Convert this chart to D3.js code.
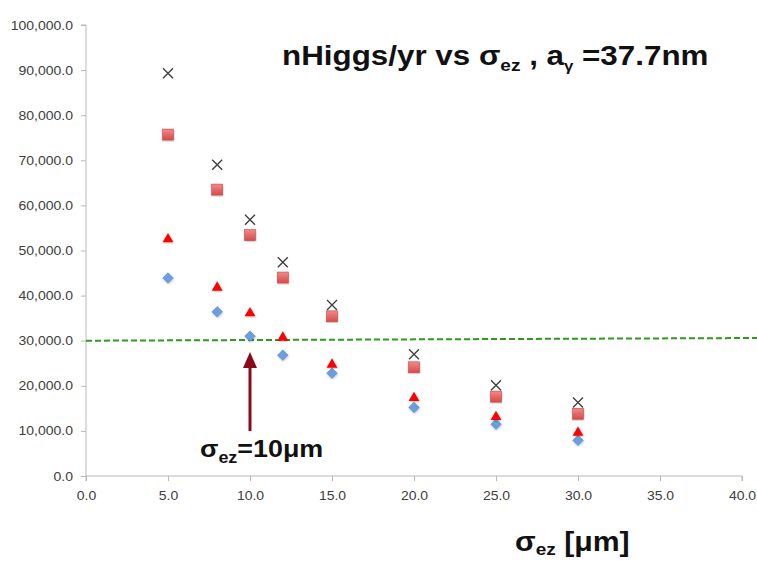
<!DOCTYPE html>
<html>
<head>
<meta charset="utf-8">
<script src="https://cdn.jsdelivr.net/npm/d3@7"></script>
<style>
  body { margin: 0; background: #fff; }
  .tick text { font-family: "Liberation Sans", Arial, sans-serif; font-size: 12.5px; fill: #404040; }
  .axis path, .axis line { stroke: #b8b8b8; }
</style>
</head>
<body>
<div class="chart"></div>
<script>
// sigma_ez values (um)
const sigmaEz = [5, 8, 10, 12, 15, 20, 25, 30]

// nHiggs/yr for the four configurations
const seriesCross = [89300, 69000, 56800, 47400, 37900, 27000, 20100, 16300]
const seriesSquare = [75700, 63500, 53400, 44000, 35400, 24100, 17600, 13800]
const seriesTriangle = [52500, 41800, 36100, 30700, 24700, 17300, 13100, 9600]
const seriesDiamond = [43900, 36400, 31000, 26800, 22800, 15200, 11500, 7900]

const xTicks = [0, 5, 10, 15, 20, 25, 30, 35, 40]
const yTicks = [0, 10000, 20000, 30000, 40000, 50000, 60000, 70000, 80000, 90000, 100000]

// 30k reference line, drawn past the right edge of the plot
const refLine = [[0, 30000], [41, 30600]]
const markedSigma = 10

const W = 757, H = 561
const margin = { left: 86, top: 25, right: 15, bottom: 85 }
const stretch = 1.12 // the source picture is a bit wider than tall

const x = d3.scaleLinear().domain([0, 40]).range([margin.left, 742])
const y = d3.scaleLinear().domain([0, 100000]).range([476, margin.top])

const svg = d3.select('.chart')
	.append('svg')
	.attr('width', W)
	.attr('height', H)

svg.append('g')
	.attr('class', 'axis')
	.attr('transform', `translate(${margin.left},0)`)
	.call(d3.axisLeft(y).tickValues(yTicks).tickFormat(d3.format(',.1f')).tickSize(5).tickPadding(8))
	.call(g => g.select('.domain').attr('d', `M-5,${y(100000)}H0V${y(0)}`))
	.call(g => g.selectAll('.tick text').attr('transform', `translate(-13,0) scale(${stretch},1)`).attr('x', 0))

svg.append('g')
	.attr('class', 'axis')
	.attr('transform', `translate(0,${y(0)})`)
	.call(d3.axisBottom(x).tickValues(xTicks).tickFormat(d3.format('.1f')).tickSize(5).tickPadding(10))
	.call(g => g.select('.domain').attr('d', `M${x(0)},5V0H${x(40)}V5`))
	.call(g => g.selectAll('.tick text').attr('transform', `scale(${stretch},1)`))

// green dashed 30k line
svg.append('path')
	.datum(refLine)
	.attr('d', d3.line().x(d => x(d[0])).y(d => y(d[1])))
	.attr('stroke', '#2e9a1e')
	.attr('stroke-width', 2)
	.attr('stroke-dasharray', '6,3')
	.attr('fill', 'none')

const pts = vals => sigmaEz.map((s, i) => [s, vals[i]])

const defs = svg.append('defs')
defs.append('filter').attr('id', 'sh')
	.append('feDropShadow')
	.attr('dx', 0.5).attr('dy', 1).attr('stdDeviation', 0.8)
	.attr('flood-color', '#000').attr('flood-opacity', 0.25)

const sqGrad = defs.append('linearGradient').attr('id', 'sq')
	.attr('x1', 0).attr('y1', 0).attr('x2', 0).attr('y2', 1)
sqGrad.append('stop').attr('offset', '0%').attr('stop-color', '#f08a88')
sqGrad.append('stop').attr('offset', '100%').attr('stop-color', '#d64a48')

const mk = svg.append('g')

// diamonds
mk.selectAll('.dia').data(pts(seriesDiamond)).enter()
	.append('path')
	.attr('transform', d => `translate(${x(d[0])},${y(d[1])})`)
	.attr('d', d3.symbol(d3.symbolDiamond2, 70))
	.attr('fill', '#6a9ee0')
	.attr('stroke', '#4f84cc')
	.attr('stroke-width', 0.6)
	.attr('filter', 'url(#sh)')

// triangles
mk.selectAll('.tri').data(pts(seriesTriangle)).enter()
	.append('path')
	.attr('transform', d => `translate(${x(d[0])},${y(d[1])})`)
	.attr('d', d3.symbol(d3.symbolTriangle2, 85))
	.attr('fill', '#ff0000')
	.attr('filter', 'url(#sh)')

// squares
mk.selectAll('.sqr').data(pts(seriesSquare)).enter()
	.append('rect')
	.attr('x', d => x(d[0]) - 5.5)
	.attr('y', d => y(d[1]) - 5.5)
	.attr('width', 11)
	.attr('height', 11)
	.attr('fill', 'url(#sq)')
	.attr('stroke', '#c94846')
	.attr('stroke-width', 0.6)
	.attr('filter', 'url(#sh)')

// crosses
mk.selectAll('.crs').data(pts(seriesCross)).enter()
	.append('path')
	.attr('transform', d => `translate(${x(d[0])},${y(d[1])})`)
	.attr('d', 'M-5,-5L5,5M-5,5L5,-5')
	.attr('stroke', '#404040')
	.attr('stroke-width', 1.4)
	.attr('fill', 'none')

// arrow to sigma = 10um
const arrowX = x(markedSigma)
svg.append('line')
	.attr('x1', arrowX).attr('x2', arrowX)
	.attr('y1', 431).attr('y2', 366)
	.attr('stroke', '#8b0a1a')
	.attr('stroke-width', 3)
svg.append('path')
	.attr('d', `M${arrowX},352L${arrowX - 7},368L${arrowX + 7},368Z`)
	.attr('fill', '#8b0a1a')

const font = '"Liberation Sans", Arial, sans-serif'

const label = (px, py, size) => svg.append('text')
	.attr('transform', `translate(${px},${py}) scale(${stretch},1)`)
	.attr('font-family', font)
	.attr('font-weight', 'bold')
	.attr('font-size', size)
	.attr('fill', '#111')

const note = label(200, 457, 24)
note.append('tspan').text('σ')
note.append('tspan').attr('font-size', 16).attr('dy', 6).text('ez')
note.append('tspan').attr('dy', -6).text('=10μm')

const title = label(282, 65, 28)
title.append('tspan').text('nHiggs/yr vs σ')
title.append('tspan').attr('font-size', 17).attr('dy', 6).text('ez')
title.append('tspan').attr('dy', -6).text(' ,  a')
title.append('tspan').attr('font-size', 15).attr('dy', 6).text('γ')
title.append('tspan').attr('dy', -6).text(' =37.7nm')

const xl = label(515, 551, 27)
xl.append('tspan').text('σ')
xl.append('tspan').attr('font-size', 17).attr('dy', 4).text('ez')
xl.append('tspan').attr('dy', -4).text(' [μm]')
</script>
</body>
</html>
